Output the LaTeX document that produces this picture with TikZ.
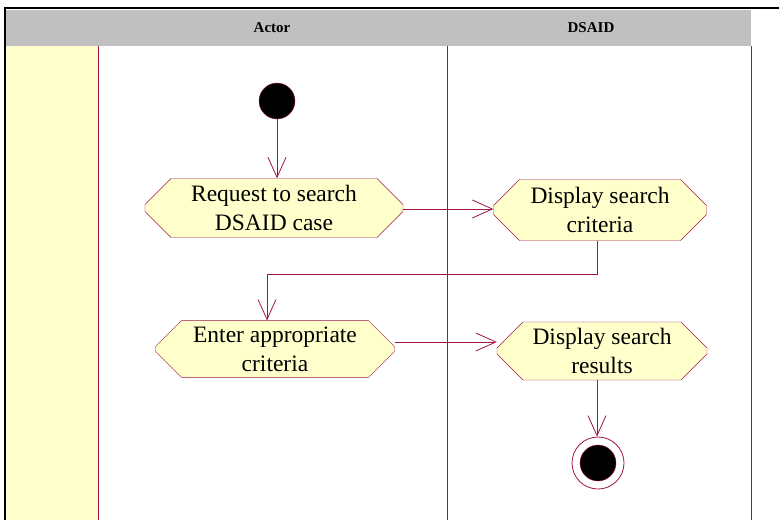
\documentclass[tikz,border=0pt]{standalone}
\usepackage{fontspec}
\setmainfont{Liberation Serif}
\usetikzlibrary{shapes.misc,arrows.meta,positioning}
\definecolor{lanered}{RGB}{160,20,70}
\definecolor{actyellow}{RGB}{255,255,204}
\definecolor{headgray}{RGB}{192,192,192}
\tikzset{
  activity/.style={chamfered rectangle, chamfered rectangle xsep=20pt,
    chamfered rectangle ysep=6pt, draw=lanered, fill=actyellow, align=center,
    inner sep=0pt, font=\fontsize{23.5}{29}\selectfont},
  flow/.style={draw=lanered, thick, -{Straight Barb[length=20pt,width=18pt]}},
  lane/.style={draw=lanered, thick},
  header/.style={font=\fontsize{15}{18}\bfseries}
}
\begin{document}
\begin{tikzpicture}[x=1pt,y=-1pt]
  \useasboundingbox (0,0) rectangle (779,520);
  %Frame and header
  \fill[white] (0,0) rectangle (779,520);
  \fill[headgray] (6,10) rectangle (751,46);
  \fill[actyellow] (6,46) rectangle (98,520);
  \draw[very thick] (5,520) -- (5,8) -- (779,8);
  \node[header] (actor) at (272,28) {Actor};
  \node[header] (dsaid) at (591,28) {DSAID};
  %Swimlanes
  \draw[lane] (98,46) -- (98,520);
  \draw[lane] (447,46) -- (447,520);
  \draw[lane] (751,46) -- (751,520);
  %Activities
  \node[circle, fill=black, draw=lanered, minimum size=36pt, inner sep=0pt] (start) at (277,101) {};
  \node[activity, minimum width=258pt, minimum height=59pt] (request) at (274,208) {Request to search\\DSAID case};
  \node[activity, minimum width=213pt, minimum height=61pt] (criteria) at (600,210) {Display search\\criteria};
  \node[activity, minimum width=239pt, minimum height=55pt] (enter) at (275,349) {Enter appropriate\\criteria};
  \node[activity, minimum width=210pt, minimum height=58pt] (results) at (602,351) {Display search\\results};
  \node[circle, fill=white, draw=lanered, thick, minimum size=52pt, inner sep=0pt] (final) at (598,463) {};
  \node[circle, fill=black, draw=lanered, minimum size=36pt, inner sep=0pt] (finaldot) at (598,463) {};
  %Transitions
  \coordinate (bend) at (267,274);
  \draw[flow] (start) -- (start |- request.north);
  \draw[flow] ([yshift=-1pt]request.east) -- ([yshift=-1pt]request.east -| criteria.west);
  \draw[flow] (criteria.south -| 597,0) |- (bend) -- (bend |- enter.north);
  \draw[flow] ([yshift=7pt]enter.east) -- ([yshift=7pt]enter.east -| results.west);
  \draw[flow] (results.south -| 597,0) -- (final.north -| 597,0);
\end{tikzpicture}
\end{document}
